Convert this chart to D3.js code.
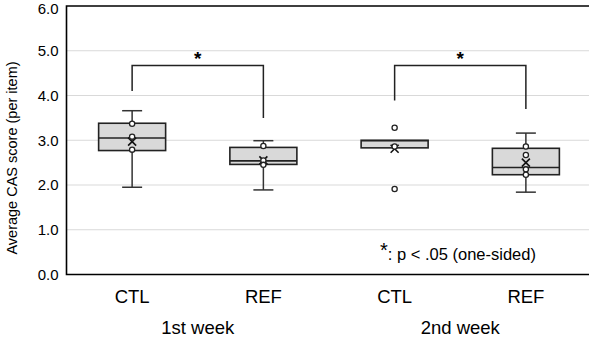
<!DOCTYPE html>
<html>
<head>
<meta charset="utf-8">
<script src="https://cdn.jsdelivr.net/npm/d3@7"></script>
<style>
  body { margin: 0; background: #fff; }
  text { font-family: Arial, "Liberation Sans", sans-serif; fill: #000; }
</style>
</head>
<body>
<svg width="589" height="343"></svg>
<script>
// groups and weeks
var groups = ["CTL", "REF", "CTL", "REF"];
var weeks = ["1st week", "2nd week"];
var yTicks = [0, 1, 2, 3, 4, 5, 6];

// box stats per group
var whiskerLo = [1.95, 1.89, 2.83, 1.84];
var q1 = [2.77, 2.46, 2.83, 2.23];
var median = [3.05, 2.54, 2.99, 2.39];
var q3 = [3.38, 2.84, 3.00, 2.82];
var whiskerHi = [3.66, 2.99, 3.00, 3.16];
var means = [2.97, 2.55, 2.81, 2.50];

// individual points drawn as open circles
var points = [
  [3.37, 3.08, 2.79],
  [2.87, 2.55, 2.45],
  [3.28, 2.86, 1.91],
  [2.86, 2.67, 2.35, 2.23]
];

// significance brackets: [from, to, top, leftEnd, rightEnd]
var brackets = [
  [0, 1, 4.67, 4.10, 3.50],
  [2, 3, 4.67, 3.89, 3.70]
];

(function() {
var svg = d3.select("svg"),
    pLeft = 66.5, pTop = 6, pBottom = 274.5, pRight = 591.5;

var x = d3.scaleBand().domain(d3.range(groups.length)).range([pLeft, pRight]);
var y = d3.scaleLinear().domain([0, 6]).range([pBottom, pTop]);
var bw = 67, cap = 20;
function cx(i) { return x(i) + x.bandwidth() / 2; }

// grid
svg.append("g").selectAll("line")
  .data(yTicks.slice(1, -1))
  .enter().append("line")
    .attr("x1", pLeft).attr("x2", 589)
    .attr("y1", function(d) { return y(d); })
    .attr("y2", function(d) { return y(d); })
    .attr("stroke", "#d9d9d9").attr("stroke-width", 1.2);

// y axis labels
var yAxis = svg.append("g")
    .attr("transform", "translate(" + pLeft + ",0)")
    .call(d3.axisLeft(y).tickValues(yTicks).tickFormat(d3.format(".1f")).tickSize(0).tickPadding(8));
yAxis.select(".domain").remove();
yAxis.selectAll("text").style("font-size", "15px").style("font-family", "Arial, 'Liberation Sans', sans-serif").attr("fill", "#000");
// top label sits a little lower so it stays inside the page
yAxis.selectAll("text").filter(function(d) { return d === 6; }).attr("y", 2.5);

// frame: left, top, bottom
svg.append("path")
  .attr("d", "M589," + y(6) + "H" + pLeft + "V" + y(0) + "H589")
  .attr("fill", "none").attr("stroke", "#000").attr("stroke-width", 1.6);

// boxes
var box = svg.append("g").selectAll("g")
  .data(groups)
  .enter().append("g");

box.append("line")
  .attr("x1", function(d, i) { return cx(i); })
  .attr("x2", function(d, i) { return cx(i); })
  .attr("y1", function(d, i) { return y(whiskerHi[i]); })
  .attr("y2", function(d, i) { return y(whiskerLo[i]); })
  .attr("stroke", "#333").attr("stroke-width", 1.5);

// whisker caps, only where the whisker leaves the box
box.each(function(d, i) {
  var g = d3.select(this);
  [[whiskerHi[i], q3[i]], [whiskerLo[i], q1[i]]].forEach(function(w) {
    if (Math.abs(w[0] - w[1]) < 0.01) return;
    g.append("line")
      .attr("x1", cx(i) - cap / 2).attr("x2", cx(i) + cap / 2)
      .attr("y1", y(w[0])).attr("y2", y(w[0]))
      .attr("stroke", "#333").attr("stroke-width", 1.5);
  });
});

box.append("rect")
  .attr("x", function(d, i) { return cx(i) - bw / 2; })
  .attr("y", function(d, i) { return y(q3[i]); })
  .attr("width", bw)
  .attr("height", function(d, i) { return y(q1[i]) - y(q3[i]); })
  .attr("fill", "#d9d9d9").attr("stroke", "#222").attr("stroke-width", 1.6);

box.append("line")
  .attr("x1", function(d, i) { return cx(i) - bw / 2; })
  .attr("x2", function(d, i) { return cx(i) + bw / 2; })
  .attr("y1", function(d, i) { return y(median[i]); })
  .attr("y2", function(d, i) { return y(median[i]); })
  .attr("stroke", "#222").attr("stroke-width", 1.6);

// mean markers
var m = 4;
box.append("path")
  .attr("d", function(d, i) {
    var px = cx(i), py = y(means[i]);
    return "M" + (px - m) + "," + (py - m) + "L" + (px + m) + "," + (py + m) +
           "M" + (px + m) + "," + (py - m) + "L" + (px - m) + "," + (py + m);
  })
  .attr("stroke", "#111").attr("stroke-width", 1.6).attr("fill", "none");

// points
box.each(function(d, i) {
  d3.select(this).selectAll("circle")
    .data(points[i])
    .enter().append("circle")
      .attr("cx", cx(i))
      .attr("cy", function(v) { return y(v); })
      .attr("r", 2.6)
      .attr("fill", "#fff").attr("stroke", "#222").attr("stroke-width", 1.3);
});

// brackets
var br = svg.append("g").selectAll("g").data(brackets).enter().append("g");
br.append("path")
  .attr("d", function(b) {
    return "M" + cx(b[0]) + "," + y(b[3]) + "V" + y(b[2]) + "H" + cx(b[1]) + "V" + y(b[4]);
  })
  .attr("fill", "none").attr("stroke", "#222").attr("stroke-width", 1.5);
br.append("text")
  .attr("x", function(b) { return (cx(b[0]) + cx(b[1])) / 2; })
  .attr("y", function(b) { return y(b[2]) - 1; })
  .attr("text-anchor", "middle")
  .style("font-size", "19px").style("font-weight", "bold")
  .text("*");

// category labels
svg.append("g").selectAll("text")
  .data(groups)
  .enter().append("text")
    .attr("x", function(d, i) { return cx(i); })
    .attr("y", 302.5)
    .attr("text-anchor", "middle")
    .style("font-size", "18.5px")
    .text(function(d) { return d; });

svg.append("g").selectAll("text")
  .data(weeks)
  .enter().append("text")
    .attr("x", function(d, i) { return (cx(2 * i) + cx(2 * i + 1)) / 2; })
    .attr("y", 334)
    .attr("text-anchor", "middle")
    .style("font-size", "18.5px")
    .text(function(d) { return d; });

// y title
svg.append("text")
  .attr("transform", "translate(17,158) rotate(-90)")
  .attr("text-anchor", "middle")
  .style("font-size", "14.5px")
  .text("Average CAS score (per item)");

// note
var note = svg.append("text")
  .attr("x", 380).attr("y", 260)
  .style("font-size", "16.5px");
note.append("tspan").style("font-size", "20px").attr("dy", -3).text("*");
note.append("tspan").attr("dy", 3).text(": p < .05 (one-sided)");
})();
</script>
</body>
</html>
